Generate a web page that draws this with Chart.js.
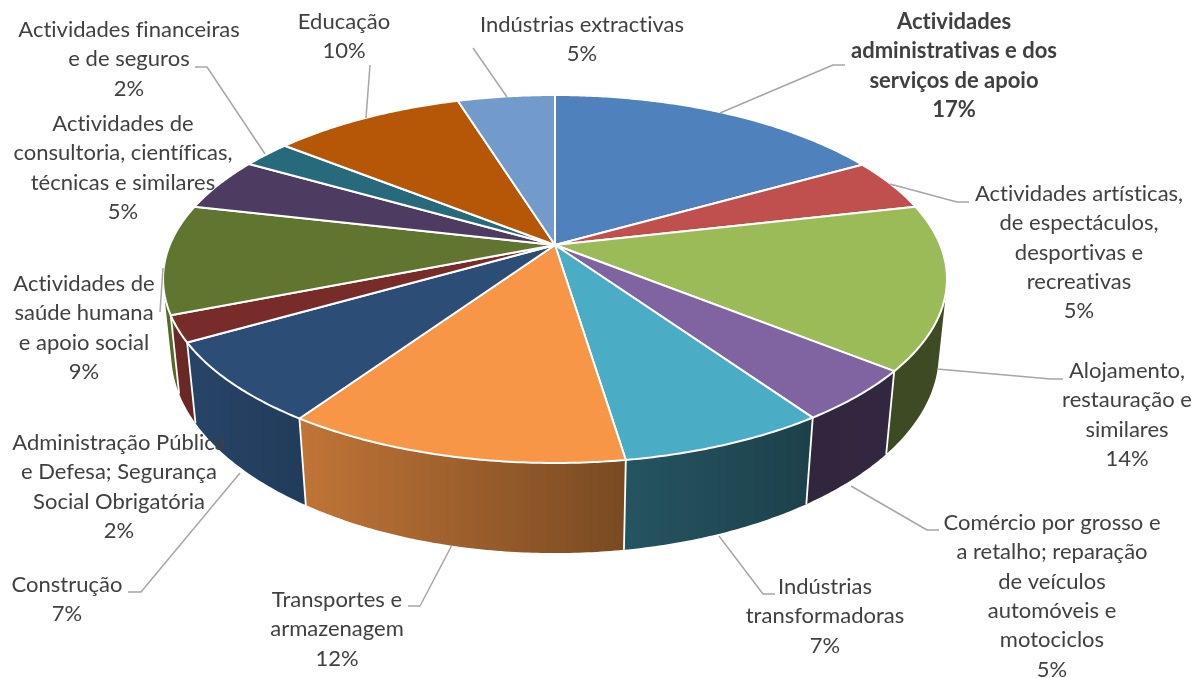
<!DOCTYPE html>
<html>
<head>
<meta charset="utf-8">
<title>Pie 3D</title>
<script src="https://cdn.jsdelivr.net/npm/chart.js@4/dist/chart.umd.js"></script>
<style>
  html, body { margin: 0; padding: 0; background: #fff; }
  canvas { display: block; }
</style>
</head>
<body>
<canvas id="pie3d" width="1197" height="678"></canvas>
<script>
// Sector names as they are broken over lines in the picture
const categories = [
    ['Actividades', 'administrativas e dos', 'serviços de apoio'],
    ['Actividades artísticas,', 'de espectáculos,', 'desportivas e', 'recreativas'],
    ['Alojamento,', 'restauração e', 'similares'],
    ['Comércio por grosso e', 'a retalho; reparação', 'de veículos', 'automóveis e', 'motociclos'],
    ['Indústrias', 'transformadoras'],
    ['Transportes e', 'armazenagem'],
    ['Construção'],
    ['Administração Pública', 'e Defesa; Segurança', 'Social Obrigatória'],
    ['Actividades de', 'saúde humana', 'e apoio social'],
    ['Actividades de', 'consultoria, científicas,', 'técnicas e similares'],
    ['Actividades financeiras', 'e de seguros'],
    ['Educação'],
    ['Indústrias extractivas']
];
// Printed percentages, and the slice sizes estimated from the drawn angles
const percentLabels = ['17%', '5%', '14%', '5%', '7%', '12%', '7%', '2%', '9%', '5%', '2%', '10%', '5%'];
const shares = [16.8, 4.6, 14.4, 4.6, 7.2, 11.9, 7.2, 2.3, 9.6, 4.7, 2.4, 9.5, 4.8];
const colors = ['#4F81BD', '#C0504D', '#9BBB59', '#8064A2', '#4BACC6', '#F79646', '#2C4D75',
    '#772C2A', '#5F7530', '#4D3B62', '#276A7C', '#B65708', '#729ACA'];

// Where each label sits: centre x, y of first line
const labelX = [954, 1079, 1127, 1052, 825, 337, 67, 119, 84, 123, 129, 344, 582];
const labelY = [22, 194, 371, 523, 587, 600, 585, 443, 284, 124, 30, 22, 25];
const LINE_HEIGHT = 29.3;

// Leader lines, same order as the labels
const leaders = [
    [[720, 113], [833, 65], [845, 65]],
    [[890, 184], [957, 202], [969, 202]],
    [[937, 369], [1051, 379], [1063, 379]],
    [[851, 486], [927, 530], [939, 530]],
    [[719, 536], [763, 594], [775, 594]],
    [[452, 545], [420, 606], [408, 606]],
    [[240, 473], [141, 592], [128, 592]],
    [],
    [[163, 268], [160, 312]],
    [],
    [[265, 154], [207, 67], [195, 67]],
    [[366, 118], [370, 65]],
    [[507, 97], [473, 48]]
];

// Perspective of the disc, fitted to the picture
const view = { cx: 555, cy: 245, kx: 385.2, ky: 177.7, tilt: 0.1848, depth: 83, depthSlope: 0.078, depthRefY: 372, vanishY: 3900 };

// Darkening of the wall from left to right: [x, factor]
const wallShade = [[170, 0.9], [298, 0.78], [625, 0.49], [810, 0.38], [947, 0.4]];

function project(angle) {
    const u = Math.cos(angle);
    const v = Math.sin(angle);
    const w = 1 - view.tilt * v;
    return { x: view.cx + view.kx * u / w, y: view.cy + view.ky * v / w };
}

// Rim point of the underside: verticals get longer and converge towards the viewer
function projectBottom(angle) {
    const p = project(angle);
    const d = view.depth + (p.y - view.depthRefY) * view.depthSlope;
    const s = (view.vanishY - p.y - d) / (view.vanishY - p.y);
    return { x: view.cx + (p.x - view.cx) * s, y: p.y + d };
}

function darken(hex, f) {
    const n = parseInt(hex.slice(1), 16);
    const r = Math.round((n >> 16 & 255) * f);
    const g = Math.round((n >> 8 & 255) * f);
    const b = Math.round((n & 255) * f);
    return `rgb(${r},${g},${b})`;
}

function wallGradient(ctx, color) {
    const x0 = wallShade[0][0];
    const x1 = wallShade[wallShade.length - 1][0];
    const grad = ctx.createLinearGradient(x0, 0, x1, 0);
    wallShade.forEach(([x, f]) => grad.addColorStop((x - x0) / (x1 - x0), darken(color, f)));
    return grad;
}

function anglesBetween(start, end) {
    const steps = Math.max(2, Math.ceil((end - start) / 0.01));
    const list = [];
    for (let i = 0; i <= steps; i++) list.push(start + (end - start) * i / steps);
    return list;
}

// Adds a quad to the current path, always wound the same way so the strips merge on fill
function addQuad(ctx, quad) {
    let area = 0;
    quad.forEach((p, i) => {
        const q = quad[(i + 1) % 4];
        area += p.x * q.y - q.x * p.y;
    });
    const pts = area < 0 ? quad.slice().reverse() : quad;
    ctx.moveTo(pts[0].x, pts[0].y);
    pts.slice(1).forEach(p => ctx.lineTo(p.x, p.y));
    ctx.closePath();
}

function drawWalls(ctx, arcs) {
    // only the near half of the rim shows, the top covers the rest
    arcs.forEach((arc, i) => {
        const start = Math.max(arc.startAngle, -0.4);
        const end = Math.min(arc.endAngle, Math.PI + 0.4);
        if (end <= start) return;
        const angles = anglesBetween(start, end);
        ctx.beginPath();
        for (let j = 0; j < angles.length - 1; j++) {
            addQuad(ctx, [project(angles[j]), project(angles[j + 1]),
                projectBottom(angles[j + 1]), projectBottom(angles[j])]);
        }
        ctx.fillStyle = wallGradient(ctx, colors[i]);
        ctx.fill();
    });
    ctx.strokeStyle = '#fff';
    ctx.lineWidth = 1.8;
    arcs.forEach(arc => {
        const a = project(arc.startAngle);
        const b = projectBottom(arc.startAngle);
        ctx.beginPath();
        ctx.moveTo(a.x, a.y);
        ctx.lineTo(b.x, b.y);
        ctx.stroke();
    });
}

function drawTop(ctx, arcs) {
    arcs.forEach((arc, i) => {
        ctx.beginPath();
        ctx.moveTo(view.cx, view.cy);
        anglesBetween(arc.startAngle, arc.endAngle).forEach(a => {
            const p = project(a);
            ctx.lineTo(p.x, p.y);
        });
        ctx.closePath();
        ctx.fillStyle = colors[i];
        ctx.fill();
        ctx.strokeStyle = '#fff';
        ctx.lineWidth = 2;
        ctx.lineJoin = 'round';
        ctx.stroke();
    });
}

function drawLeaders(ctx) {
    ctx.strokeStyle = '#A6A6A6';
    ctx.lineWidth = 1.5;
    leaders.forEach(points => {
        if (!points.length) return;
        ctx.beginPath();
        points.forEach(([x, y], j) => {
            if (j === 0) ctx.moveTo(x, y); else ctx.lineTo(x, y);
        });
        ctx.stroke();
    });
}

function drawLabels(ctx) {
    ctx.fillStyle = '#404040';
    ctx.textAlign = 'center';
    ctx.textBaseline = 'middle';
    ctx.letterSpacing = '0.01px'; // stops the fi ligature
    categories.forEach((lines, i) => {
        ctx.font = `${i === 0 ? 'bold ' : ''}22px Lato`;
        lines.concat(percentLabels[i]).forEach((line, j) => {
            ctx.fillText(line, labelX[i], labelY[i] + j * LINE_HEIGHT);
        });
    });
}

// Chart.js works out the slice angles, this plugin paints them as a tilted disc
const pie3dPlugin = {
    id: 'pie3d',
    beforeDatasetDraw(chart, args) {
        const ctx = chart.ctx;
        const arcs = chart.getDatasetMeta(args.index).data;
        ctx.save();
        drawWalls(ctx, arcs);
        drawTop(ctx, arcs);
        drawLeaders(ctx);
        drawLabels(ctx);
        ctx.restore();
        return false;
    }
};

new Chart(document.getElementById('pie3d'), {
    type: 'pie',
    data: {
        labels: categories.map(lines => lines.join(' ')),
        datasets: [{ data: shares, backgroundColor: colors }]
    },
    options: {
        responsive: false,
        animation: false,
        plugins: {
            legend: { display: false },
            tooltip: { enabled: false }
        }
    },
    plugins: [pie3dPlugin]
});
</script>
</body>
</html>
